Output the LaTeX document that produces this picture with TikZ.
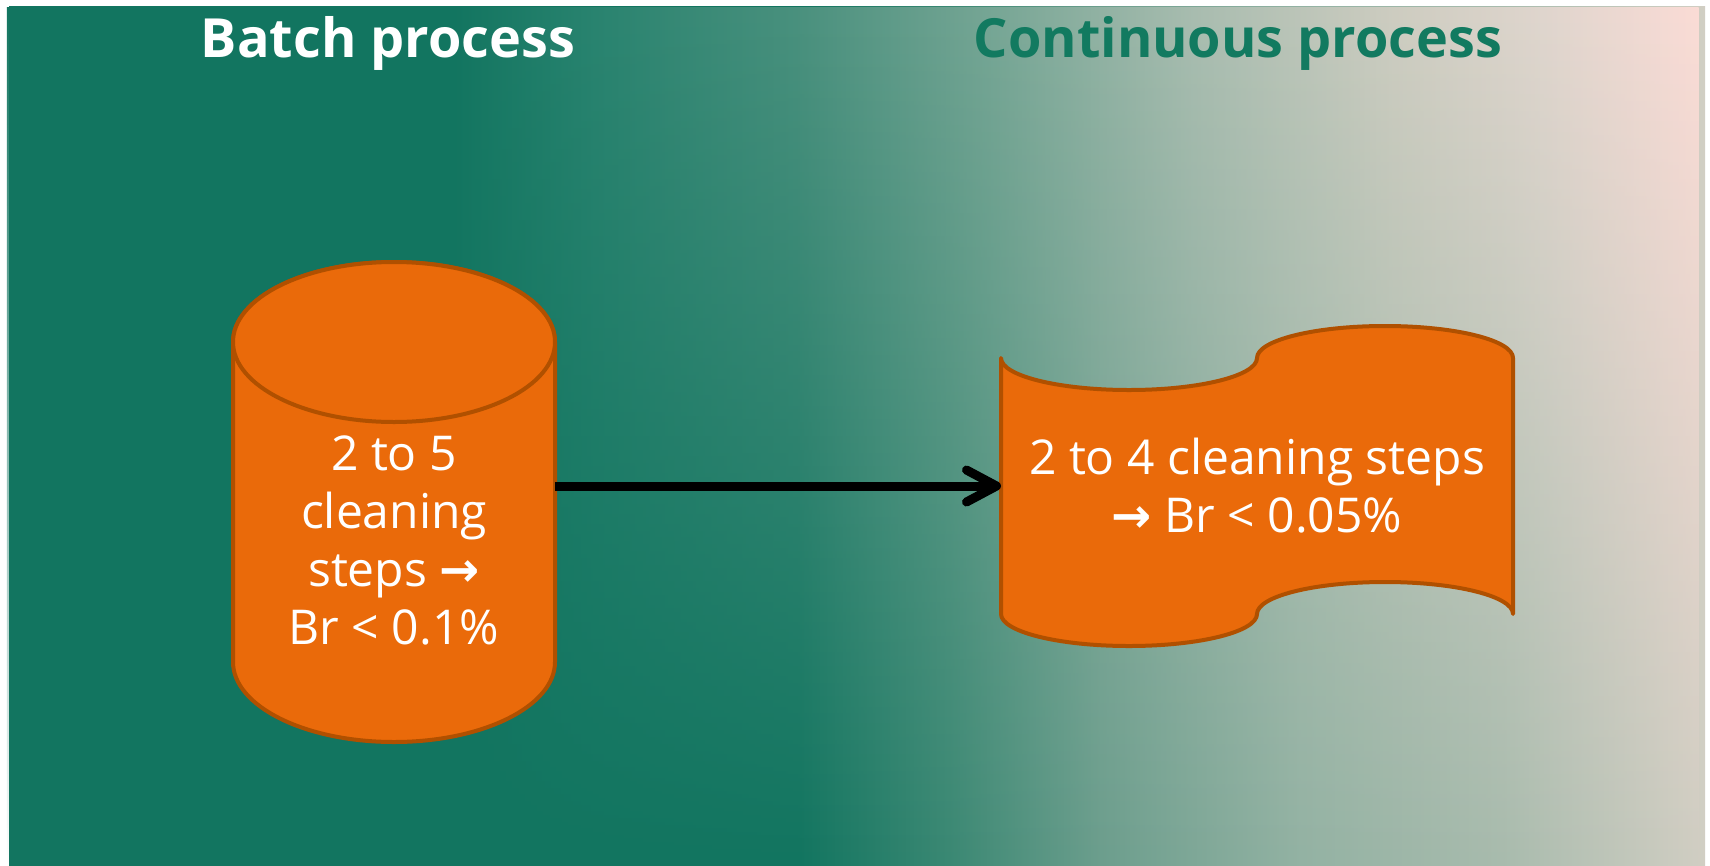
\documentclass[tikz,border=0pt]{standalone}
\usepackage{fontspec}
\setmainfont{Open Sans}
\newfontfamily\symfont{DejaVu Sans}
\usetikzlibrary{arrows.meta,fadings}
\definecolor{dkgreen}{RGB}{18,117,96}
\definecolor{titlegreen}{RGB}{18,122,96}
\definecolor{shapeorange}{RGB}{234,106,10}
\definecolor{shapeedge}{RGB}{176,80,0}
\definecolor{tA}{HTML}{2A8470}
\definecolor{tB}{HTML}{4A917E}
\definecolor{tC}{HTML}{78A796}
\definecolor{tD}{HTML}{A9BDB0}
\definecolor{tE}{HTML}{CECDC1}
\definecolor{tF}{HTML}{E0D6CE}
\definecolor{tG}{HTML}{FBDCD6}
\definecolor{bA}{HTML}{3A8873}
\definecolor{bB}{HTML}{6C9E8D}
\definecolor{bC}{HTML}{93B2A3}
\definecolor{bD}{HTML}{A8BBAD}
\definecolor{bE}{HTML}{D1CEC3}
\pgfdeclarehorizontalshading{bgtop}{100bp}{color(0bp)=(dkgreen); color(38bp)=(dkgreen); color(42.4bp)=(tA); color(48.3bp)=(tB); color(54.2bp)=(tC); color(60.1bp)=(tD); color(66bp)=(tE); color(70.4bp)=(tF); color(75bp)=(tG); color(100bp)=(tG)}
\pgfdeclarehorizontalshading{bgbot}{100bp}{color(0bp)=(dkgreen); color(48.3bp)=(dkgreen); color(52.7bp)=(bA); color(57.2bp)=(bB); color(63.1bp)=(bC); color(69bp)=(bD); color(75bp)=(bE); color(100bp)=(bE)}
\tikzfading[name=fadetop, top color=transparent!0, bottom color=transparent!100]
\tikzset{
  shapefill/.style={fill=shapeorange, draw=shapeedge, line width=4pt, line join=round},
  titletext/.style={font=\fontsize{54}{62}\selectfont\bfseries, inner sep=0pt, anchor=base},
  bodytext/.style={font=\fontsize{48}{58}\selectfont, text=white, align=center, inner sep=0pt},
  frame/.style={inner sep=0pt, outer sep=0pt},
  arrowline/.style={line width=9pt, -{Straight Barb[length=30pt, width=32pt, round]}}
}
\newcommand{\txtarrow}{{\symfont\bfseries →}}
\begin{document}
\begin{tikzpicture}[x=1pt,y=1pt]
\useasboundingbox (0,0) rectangle (1710,-865);
\fill[white] (0,0) rectangle (1710,-865);
\shade[shading=bgbot] (9,-6) rectangle (1705,-865);
\shade[shading=bgtop, path fading=fadetop] (9,-6) rectangle (1705,-865);
% titles
\node[titletext, text=white] (batch) at (388,-57) {Batch process};
\node[titletext, text=titlegreen] (cont) at (1238,-57) {Continuous process};
% cylinder
\path[shapefill] (233,-342) -- (233,-662) arc[start angle=180, end angle=360, x radius=161, y radius=80] -- (555,-342) arc[start angle=0, end angle=180, x radius=161, y radius=80] -- cycle;
\draw[shapefill] (394,-342) ellipse[x radius=161, y radius=80];
\node[frame, minimum width=322pt, minimum height=480pt] (cyl) at (394,-502) {};
\node[bodytext] (cyltext) at (394,-540) {2 to 5\\cleaning\\steps \txtarrow\\Br < 0.1\%};
% tape
\path[shapefill] (1001,-358) arc[start angle=180, end angle=360, x radius=128, y radius=32]
  arc[start angle=180, end angle=0, x radius=128, y radius=32]
  -- (1513,-614) arc[start angle=0, end angle=180, x radius=128, y radius=32]
  arc[start angle=360, end angle=180, x radius=128, y radius=32] -- cycle;
\node[frame, minimum width=512pt, minimum height=256pt] (tape) at (1257,-486) {};
\node[bodytext] (tapetext) at (1257,-486) {2 to 4 cleaning steps\\\txtarrow{} Br < 0.05\%};
% connector
\draw[arrowline] (cyl.east |- tape.west) -- (tape.west);
\end{tikzpicture}
\end{document}
